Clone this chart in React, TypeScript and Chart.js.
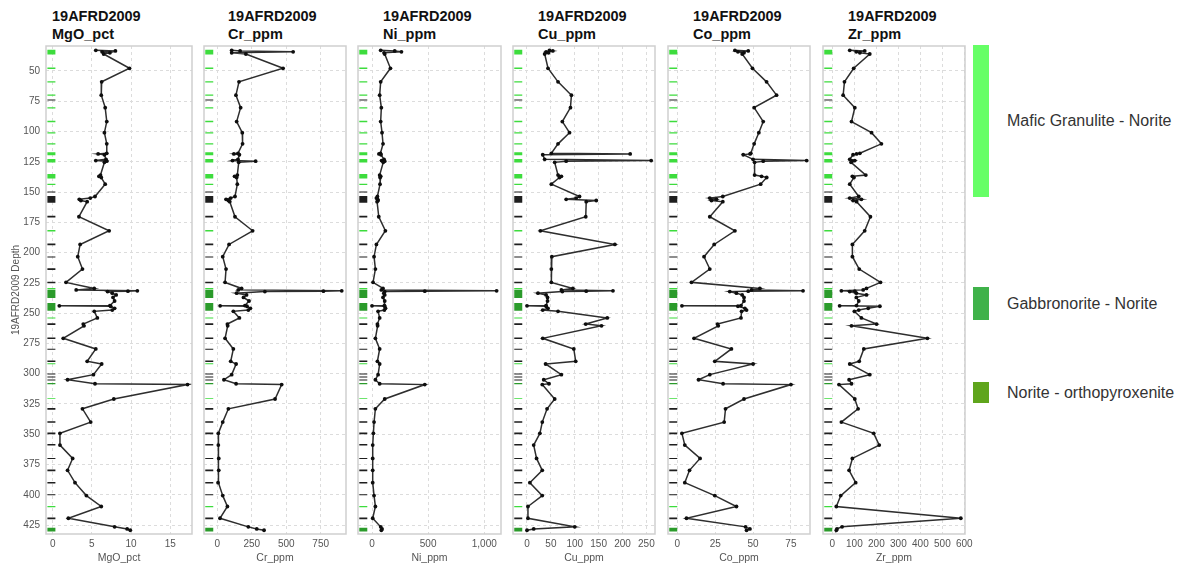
import React, { useEffect, useRef } from "react";
import { Chart, registerables } from "chart.js";

Chart.register(...registerables);

// ---------------- data ----------------
const holeId = "19AFRD2009";
const depthAxisTitle = "19AFRD2009 Depth";

const depths = [
  33, 33.5, 34.2, 35, 36, 47.8, 59, 70, 80.3, 91.8, 101, 110.2,
  118, 118.5, 119.2, 123, 124, 124.5, 125.5, 136, 137, 138, 143.5,
  153.7, 155, 156, 157, 158, 170.4, 182, 193.3, 203.4, 213.6, 224.6,
  229.6, 230.8, 231.6, 231.9, 232.2, 233.5, 235, 237, 240, 243.8, 244, 244.3, 246, 247.5, 248.5,
  254, 259, 260.5, 270.8, 279.6, 289.8, 292, 300.8, 305, 308.3, 309, 320.9, 329, 340,
  349.3, 359, 370, 379.8, 390, 400.7, 409.7, 419.4, 426.5, 428.2, 429.3,
];

const mgoPct = [
  5.5, 8.0, 6.3, 7.3, 6.5, 9.8, 6.25, 6.2, 6.7, 6.9, 6.6, 6.9,
  6.9, 5.8, 6.6, 6.8, 5.5, 6.9, 6.6, 6.1, 5.9, 6.2, 6.7,
  5.4, 4.8, 3.4, 3.6, 4.4, 3.35, 7.2, 3.5, 3.2, 3.8, 1.7,
  5.3, 3.0, 10.8, 9.6, 7.0, 7.6, 8.1, 7.7, 7.9, 7.3, 0.85, 7.4, 7.9, 7.6, 5.3,
  5.7, 3.9, 4.0, 1.35, 5.5, 4.4, 6.25, 5.2, 1.9, 5.4, 17.2, 7.8, 3.8, 4.85,
  0.93, 0.93, 2.55, 1.9, 2.85, 4.3, 6.2, 2.0, 7.9, 9.5, 9.9,
];

const crPpm = [
  104, 165, 550, 104, 207, 477, 157, 135, 169, 140, 181, 183,
  150, 120, 160, 150, 110, 278, 155, 145, 125, 140, 145,
  128, 97, 63, 80, 90, 128, 256, 85, 39, 63, 56,
  176, 152, 903, 770, 345, 140, 212, 190, 230, 200, 20, 215, 240, 225, 116,
  160, 73, 75, 56, 116, 97, 136, 104, 48, 136, 467, 419, 80, 39,
  7, 7, 10, 10, 5, 39, 73, 19, 225, 286, 339,
];

const niPpm = [
  77, 202, 262, 107, 113, 164, 77, 68, 83, 77, 89, 98,
  75, 62, 80, 107, 85, 113, 100, 68, 77, 72, 71,
  48, 39, 50, 54, 45, 60, 119, 39, 18, 30, 9,
  98, 83, 1110, 470, 113, 105, 113, 98, 113, 110, 0, 113, 120, 110, 54,
  68, 48, 50, 30, 68, 48, 68, 54, 30, 68, 470, 113, 30, 18,
  12, 6, 6, 6, 6, 18, 30, 6, 77, 89, 83,
];

const cuPpm = [
  47, 54, 40, 45, 37, 44, 65, 93, 91, 74, 89, 65,
  51, 216, 33, 37, 260, 82, 58, 65, 72, 68, 51,
  110, 103, 82, 145, 124, 123, 28, 184, 52, 51, 51,
  96, 72, 180, 124, 74, 23, 40, 43, 43, 40, 0, 40, 44, 33, 65,
  168, 123, 156, 33, 98, 102, 39, 72, 35, 46, 32, 58, 42, 32,
  27, 14, 20, 32, 6, 32, 2, 2, 100, 14, 0,
];

const coPpm = [
  38, 46.8, 40, 44, 42.8, 49.6, 58.9, 65.5, 50.7, 56.7, 53.8, 50.7,
  48.5, 48, 43.5, 50, 85.4, 56.7, 51, 51, 55.6, 59, 55,
  30, 21.4, 25.8, 22.5, 30, 21.4, 38, 24.3, 17.6, 21.4, 9.3,
  54.5, 49, 83, 46.8, 34.6, 39, 42.8, 44, 44, 42, 3, 40, 44.6, 45.7, 42.4,
  42, 26.5, 27, 11, 35.7, 24.7, 50, 21.4, 14, 30.2, 75, 44, 31.8, 30.9,
  3, 4.9, 15, 8, 4.9, 24.7, 39, 6, 45, 47.9, 45.7,
];

const zrPpm = [
  79, 147, 109, 125, 170, 97, 55, 49, 102, 87, 178, 223,
  125, 110, 94, 79, 102, 90, 85, 152, 91, 98, 79,
  120, 79, 132, 94, 110, 173, 147, 91, 91, 122, 219,
  155, 140, 41, 102, 79, 109, 155, 109, 120, 110, 33, 216, 163, 120, 100,
  132, 201, 87, 432, 143, 122, 79, 170, 76, 87, 30, 102, 117, 41,
  188, 213, 91, 76, 106, 38, 18, 584, 44, 21, 18,
];

const variableNames = ["MgO_pct", "Cr_ppm", "Ni_ppm", "Cu_ppm", "Co_ppm", "Zr_ppm"];
const variableValues = [mgoPct, crPpm, niPpm, cuPpm, coPpm, zrPpm];
const xTickValues = [
  [0, 5, 10, 15],
  [0, 250, 500, 750],
  [0, 500, 1000],
  [0, 50, 100, 150, 200, 250],
  [0, 25, 50, 75],
  [0, 100, 200, 300, 400, 500, 600],
];
const xAxisMin = [-0.85, -97, -125, -29.3, -6.2, -42.6];
const xAxisMax = [17.77, 934, 1149, 268, 87.6, 603];

const depthTicks = [50, 75, 100, 125, 150, 175, 200, 225, 250, 275, 300, 325, 350, 375, 400, 425];
const depthTop = 29.4;
const depthBottom = 432.4;

// lithology log (downhole strip)
const lithologyNames = ["Mafic Granulite - Norite", "Gabbronorite - Norite", "Norite - orthopyroxenite"];
const lithoFrom = [
  32.5, 47.2, 58.5, 69.4, 73.6, 80.0, 91.2, 100.6, 109.8, 117.2, 122.8, 135.2, 143.2,
  149.6, 153.2, 169.6, 181.4, 192.6, 203.2, 213.0, 224.0, 229.2, 230.6, 241.6,
  253.6, 258.4, 270.2, 279.4, 289.2, 291.4, 299.8, 302.4, 304.8, 307.6, 320.2,
  328.4, 339.2, 348.6, 358.0, 369.6, 379.2, 389.4, 399.6, 409.2, 418.8, 427.2,
];
const lithoTo = [
  36.5, 48.4, 59.5, 70.4, 74.4, 81.0, 92.4, 101.6, 110.8, 119.6, 125.6, 138.8, 144.2,
  150.4, 158.8, 171.0, 182.6, 194.0, 204.0, 214.4, 225.4, 230.2, 237.6, 248.0,
  254.4, 259.8, 271.4, 280.2, 290.4, 292.2, 300.6, 303.2, 305.6, 308.8, 321.0,
  329.8, 340.6, 350.0, 359.4, 370.4, 380.6, 390.6, 400.4, 410.4, 420.2, 430.4,
];
const lithoCode = [
  "MGN", "MGN", "MGN", "MGN", "NA", "MGN", "MGN", "MGN", "MGN", "MGN", "MGN", "MGN", "MGN",
  "NA", "NA", "NA", "MGN", "NA", "NA", "NA", "NA", "MGN", "GBN", "GBN",
  "MGN", "NA", "NA", "NA", "NA", "MGN", "NA", "NA", "NA", "GBN", "MGN",
  "NA", "NA", "NA", "NA", "NA", "NA", "NA", "NA", "MGN", "NA", "GBN",
];

// ---------------- styling / layout ----------------
const stripColors: Record<string, string> = {
  MGN: "#3ddc3d",
  GBN: "#2b9b2b",
  NOP: "#5fa61c",
  NA: "#1e1e1e",
};
const legendColors = ["#66ff66", "#3fb24a", "#5fa51c"];

const frameLefts = [46, 204, 358, 513, 668, 823];
const frameRights = [192, 346, 501, 655, 810, 965];
const titleLefts = [52, 228, 383, 538, 693, 848];
const PLOT_TOP = 46;
const CANVAS_H = 566;
const X_AXIS_H = 32;
const PAD_RIGHT = 14;
const STRIP_X = 0.037;

const narrowFamily = "'Liberation Sans Narrow', 'Arial Narrow', 'Liberation Sans', Arial, sans-serif";
const sansFamily = "'Liberation Sans', Arial, Helvetica, sans-serif";

const framePlugin = {
  id: "frame",
  afterDraw(chart: any) {
    const { ctx, chartArea } = chart;
    const { left, top, right, bottom } = chartArea;
    ctx.save();
    ctx.strokeStyle = "#cfcfcf";
    ctx.lineWidth = 1.5;
    ctx.strokeRect(left, top, right - left, bottom - top);
    ctx.restore();
  },
};

function Panel({ index }: { index: number }) {
  const ref = useRef<HTMLCanvasElement | null>(null);
  const axisW = index === 0 ? frameLefts[0] : 6;
  const canvasLeft = frameLefts[index] - axisW;
  const canvasW = axisW + (frameRights[index] - frameLefts[index]) + PAD_RIGHT;

  useEffect(() => {
    if (!ref.current) return;
    const values = variableValues[index];
    const linePoints = depths.map((d, i) => ({ x: values[i], y: d }));

    const stripSets = Object.keys(stripColors).map((code) => {
      const pts: { x: number; y: number | null }[] = [];
      lithoFrom.forEach((f, i) => {
        if (lithoCode[i] !== code) return;
        pts.push({ x: STRIP_X, y: f });
        pts.push({ x: STRIP_X, y: lithoTo[i] });
        pts.push({ x: STRIP_X, y: null });
      });
      return {
        type: "scatter" as const,
        data: pts,
        xAxisID: "xs",
        yAxisID: "y",
        showLine: true,
        borderColor: stripColors[code],
        backgroundColor: stripColors[code],
        borderWidth: 8,
        borderCapStyle: "butt" as const,
        pointRadius: 0,
        spanGaps: false,
      };
    });

    const chart = new Chart(ref.current, {
      type: "scatter",
      data: {
        datasets: [
          ...stripSets,
          {
            data: linePoints,
            xAxisID: "x",
            yAxisID: "y",
            showLine: true,
            borderColor: "#2e2e2e",
            borderWidth: 1.5,
            pointRadius: 1.9,
            pointBackgroundColor: "#0e0e0e",
            pointBorderColor: "#0e0e0e",
            pointBorderWidth: 0,
          },
        ] as any,
      },
      options: {
        animation: false,
        responsive: false,
        layout: { padding: { top: PLOT_TOP, right: PAD_RIGHT, left: 0, bottom: 0 } },
        plugins: {
          legend: { display: false },
          tooltip: { enabled: false },
          title: { display: false },
        },
        scales: {
          x: {
            type: "linear",
            position: "bottom",
            min: xAxisMin[index],
            max: xAxisMax[index],
            afterBuildTicks: (s: any) => {
              s.ticks = xTickValues[index].map((v) => ({ value: v }));
            },
            ticks: {
              maxRotation: 0,
              padding: 4,
              color: "#555",
              font: { family: narrowFamily, size: 10 },
            },
            grid: { color: "#dcdcdc", lineWidth: 1, drawTicks: false },
            border: { display: false, dash: [3, 3] },
            title: {
              display: true,
              text: variableNames[index],
              color: "#555",
              font: { family: narrowFamily, size: 10.5 },
              padding: { top: 0, bottom: 2 },
            },
            afterFit: (s: any) => {
              s.height = X_AXIS_H;
            },
          },
          xs: {
            type: "linear",
            axis: "x",
            display: false,
            min: 0,
            max: 1,
          },
          y: {
            type: "linear",
            position: "left",
            reverse: true,
            min: depthTop,
            max: depthBottom,
            afterBuildTicks: (s: any) => {
              s.ticks = depthTicks.map((v) => ({ value: v }));
            },
            ticks: {
              display: index === 0,
              padding: 6,
              color: "#555",
              font: { family: narrowFamily, size: 10 },
            },
            grid: { color: "#dcdcdc", lineWidth: 1, drawTicks: false },
            border: { display: false, dash: [3, 3] },
            title: {
              display: index === 0,
              text: depthAxisTitle,
              color: "#555",
              font: { family: sansFamily, size: 10 },
              padding: { top: 10, bottom: 0 },
            },
            afterFit: (s: any) => {
              s.width = axisW;
            },
          },
        },
      } as any,
      plugins: [framePlugin],
    });
    return () => chart.destroy();
  }, [index]);

  return (
    <canvas
      ref={ref}
      width={canvasW}
      height={CANVAS_H}
      style={{ position: "absolute", left: canvasLeft, top: 0, width: canvasW, height: CANVAS_H }}
    />
  );
}

const legendBarTops = [45, 287, 382];
const legendBarHeights = [152, 33, 21];

export default function App() {
  return (
    <div
      style={{
        position: "absolute",
        left: 0,
        top: 0,
        width: 1180,
        height: 566,
        background: "#ffffff",
        overflow: "hidden",
      }}
    >
      {variableNames.map((name, i) => (
        <div
          key={"t" + i}
          style={{
            position: "absolute",
            left: titleLefts[i],
            top: 8,
            fontFamily: sansFamily,
            fontWeight: "bold",
            fontSize: 14.5,
            lineHeight: "17.5px",
            color: "#111",
            whiteSpace: "nowrap",
          }}
        >
          <div>{holeId}</div>
          <div>{name}</div>
        </div>
      ))}
      {variableNames.map((_, i) => (
        <Panel key={"p" + i} index={i} />
      ))}
      {lithologyNames.map((name, i) => (
        <React.Fragment key={"l" + i}>
          <div
            style={{
              position: "absolute",
              left: 973,
              top: legendBarTops[i],
              width: 16,
              height: legendBarHeights[i],
              background: legendColors[i],
            }}
          />
          <div
            style={{
              position: "absolute",
              left: 1007,
              top: legendBarTops[i] + legendBarHeights[i] / 2 - 10,
              height: 20,
              lineHeight: "20px",
              fontFamily: sansFamily,
              fontSize: 16,
              color: "#333",
              whiteSpace: "nowrap",
            }}
          >
            {name}
          </div>
        </React.Fragment>
      ))}
    </div>
  );
}
